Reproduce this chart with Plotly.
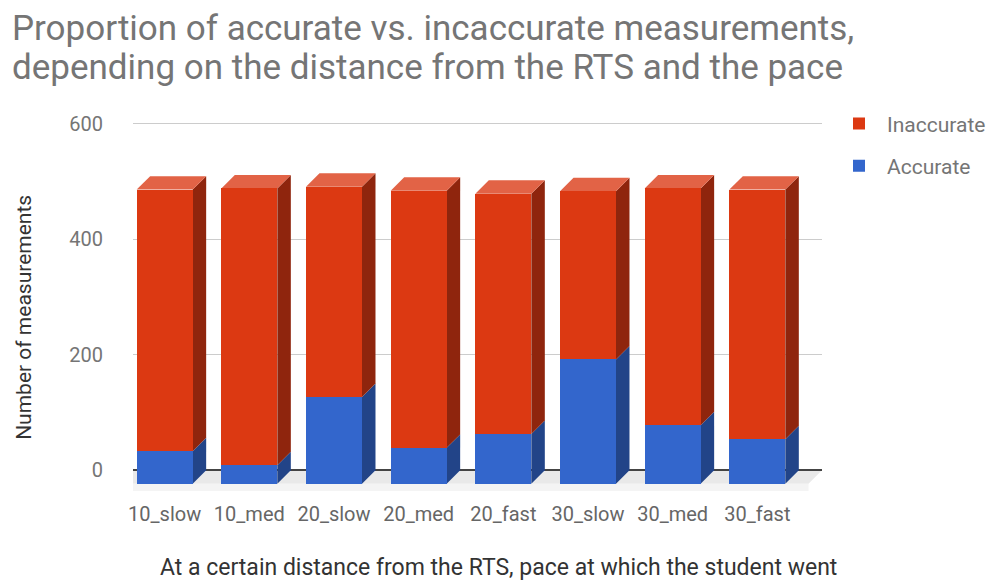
import plotly.graph_objects as go

# Measurement counts per distance / pace combination
categories = ["10_slow", "10_med", "20_slow", "20_med", "20_fast", "30_slow", "30_med", "30_fast"]
accurate = [56, 32, 150, 62, 86, 215, 101, 77]
inaccurate = [453, 479, 364, 445, 416, 291, 410, 432]
y_ticks = [0, 200, 400, 600]

title_lines = [
    "Proportion of accurate vs. incaccurate measurements,",
    "depending on the distance from the RTS and the pace",
]

# Colours for the front, side and top faces of the pseudo-3D bars
RED, RED_SIDE, RED_TOP = "#dc3912", "#8f250d", "#e26346"
BLUE, BLUE_SIDE = "#3366cc", "#224488"
FONT = "Roboto"

# Page geometry (pixels)
W, H = 989, 583
M_L, M_R, M_T, M_B = 133, 167, 111.7, 91.5
plot_w = W - M_L - M_R
plot_h = H - M_T - M_B

x_range = [-0.374, 7.764]
y_range = [-36, 620]
px_per_x = plot_w / (x_range[1] - x_range[0])
px_per_y = plot_h / (y_range[1] - y_range[0])

DEPTH_PX = 13.5
dx = DEPTH_PX / px_per_x
dy = DEPTH_PX / px_per_y
bar_w = 56 / px_per_x

idx = list(range(len(categories)))
totals = [a + b for a, b in zip(accurate, inaccurate)]

fig = go.Figure()

fig.add_trace(go.Bar(
    x=idx, y=inaccurate, base=[a - dy for a in accurate], width=bar_w,
    marker=dict(color=RED, line=dict(width=0)), name="Inaccurate",
    legendgroup="inacc", hoverinfo="skip",
))
fig.add_trace(go.Bar(
    x=idx, y=accurate, base=[-dy] * len(idx), width=bar_w,
    marker=dict(color=BLUE, line=dict(width=0)), name="Accurate",
    legendgroup="acc", hoverinfo="skip",
))


def poly(points):
    return "M " + " L ".join(f"{x},{y}" for x, y in points) + " Z"


shapes = []

# Floor of the chart: top surface and front edge
xl_back, xr_back = x_range[0], x_range[1]
shapes.append(dict(
    type="path", xref="x", yref="y", layer="below", line=dict(width=0),
    fillcolor="#e9e9e9",
    path=poly([(xl_back, 0), (xr_back, 0), (xr_back - dx, -dy), (xl_back - dx, -dy)]),
))
shapes.append(dict(
    type="path", xref="x", yref="y", layer="below", line=dict(width=0),
    fillcolor="#f4f4f4",
    path=poly([(xl_back - dx, -dy), (xr_back - dx, -dy),
               (xr_back - dx, -dy - 10 / px_per_y), (xl_back - dx, -dy - 10 / px_per_y)]),
))

# Side and top faces derived from the stacked values
for i, a, t in zip(idx, accurate, totals):
    xl = i - bar_w / 2
    xr = i + bar_w / 2
    shapes.append(dict(
        type="path", xref="x", yref="y", layer="between", line=dict(width=0),
        fillcolor=BLUE_SIDE,
        path=poly([(xr, -dy), (xr + dx, 0), (xr + dx, a), (xr, a - dy)]),
    ))
    shapes.append(dict(
        type="path", xref="x", yref="y", layer="between", line=dict(width=0),
        fillcolor=RED_SIDE,
        path=poly([(xr, a - dy), (xr + dx, a), (xr + dx, t), (xr, t - dy)]),
    ))
    shapes.append(dict(
        type="path", xref="x", yref="y", layer="between", line=dict(width=0),
        fillcolor=RED_TOP,
        path=poly([(xl, t - dy), (xl + dx, t), (xr + dx, t), (xr, t - dy)]),
    ))


def px_to_paper_x(px):
    return (px - M_L) / plot_w


def px_to_paper_y(py):
    return (H - M_B - py) / plot_h


annotations = [
    dict(text=title_lines[0], xref="paper", yref="paper",
         x=px_to_paper_x(10), y=px_to_paper_y(28), xanchor="left", yanchor="middle",
         showarrow=False, font=dict(family=FONT, size=35, color="#757575")),
    dict(text=title_lines[1], xref="paper", yref="paper",
         x=px_to_paper_x(10), y=px_to_paper_y(67), xanchor="left", yanchor="middle",
         showarrow=False, font=dict(family=FONT, size=35, color="#757575")),
    dict(text="Number of measurements", xref="paper", yref="paper", textangle=-90,
         x=px_to_paper_x(24), y=px_to_paper_y(318), xanchor="center", yanchor="middle",
         showarrow=False, font=dict(family=FONT, size=21, color="#333333")),
    dict(text="At a certain distance from the RTS, pace at which the student went",
         xref="paper", yref="paper",
         x=px_to_paper_x(498), y=px_to_paper_y(568), xanchor="center", yanchor="middle",
         showarrow=False, font=dict(family=FONT, size=23, color="#333333")),
]

fig.update_layout(
    width=W, height=H,
    margin=dict(l=M_L, r=M_R, t=M_T, b=M_B, pad=0, autoexpand=False),
    paper_bgcolor="white", plot_bgcolor="white",
    barmode="overlay", bargap=0,
    shapes=shapes, annotations=annotations,
    hovermode=False,
    font=dict(family=FONT),
    legend=dict(
        x=px_to_paper_x(831), y=px_to_paper_y(103), xanchor="left", yanchor="top",
        itemwidth=46, tracegroupgap=12, traceorder="grouped",
        font=dict(family=FONT, size=21, color="#757575"),
        bgcolor="rgba(0,0,0,0)",
    ),
    xaxis=dict(
        range=x_range, tickvals=idx, ticktext=categories, showgrid=False,
        zeroline=False, showline=False, ticks="", fixedrange=True,
        tickfont=dict(family=FONT, size=20, color="#666666"),
        ticklabelstandoff=9,
    ),
    yaxis=dict(
        range=y_range, tickvals=y_ticks, showgrid=True, gridcolor="#cccccc",
        gridwidth=1, zeroline=True, zerolinecolor="#444444", zerolinewidth=1.5,
        showline=False, ticks="", fixedrange=True,
        tickfont=dict(family=FONT, size=20, color="#757575"),
        ticklabelstandoff=29,
    ),
)

fig.write_html("out.html")
